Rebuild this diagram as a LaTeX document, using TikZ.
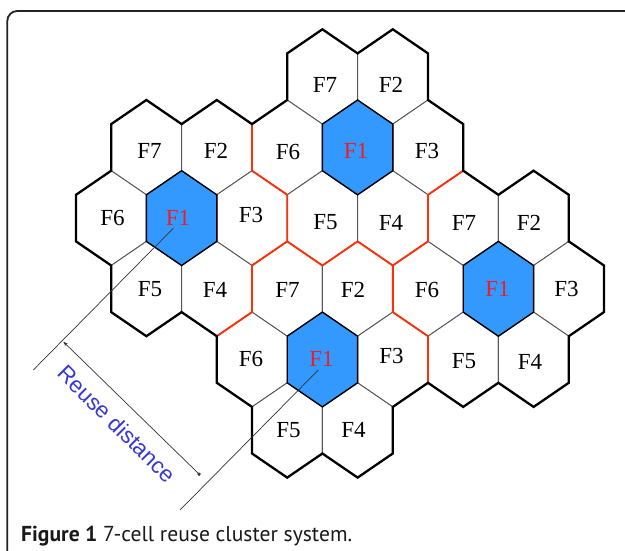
\documentclass[tikz,border=0pt]{standalone}
\usepackage{fontspec}
\usetikzlibrary{arrows.meta}
\newfontfamily\cellfont{Liberation Serif}
\newfontfamily\dimfont{Liberation Sans}
\newfontfamily\capfont{PT Sans}
\definecolor{cellblue}{RGB}{51,153,255}
\definecolor{cellred}{RGB}{235,30,40}
\definecolor{bordred}{RGB}{250,50,10}
\definecolor{dimblue}{RGB}{55,55,215}
\definecolor{innergray}{RGB}{85,85,85}
\definecolor{framegray}{RGB}{35,35,35}
\tikzset{
  cellnum/.style={font=\cellfont\fontsize{23}{23}\selectfont, inner sep=0pt, text=black},
  fonenum/.style={cellnum, text=cellred},
  innerline/.style={draw=innergray, line width=0.9pt},
  foneline/.style={draw=black, line width=1.4pt},
  clusterline/.style={draw=bordred, line width=1.9pt, line join=miter},
  outerline/.style={draw=black, line width=2.3pt, line join=miter},
  dimline/.style={draw=black!80, line width=0.7pt},
  dimtext/.style={font=\dimfont\fontsize{22.5}{22.5}\selectfont, text=dimblue, rotate=-45, inner sep=0pt},
  capstyle/.style={font=\capfont\fontsize{21.6}{21.6}\selectfont, text=black!90, inner sep=0pt, anchor=base west},
}
\newcommand\hexcell[3]{%
  \pgfmathtruncatemacro\hma{2*#1-2}%
  \pgfmathtruncatemacro\hmb{2*#1-1}%
  \pgfmathtruncatemacro\hmc{2*#1}%
  \pgfmathtruncatemacro\hmd{2*#1+1}%
  \pgfmathtruncatemacro\hkl{#2-1}%
  \pgfmathtruncatemacro\hkr{#2+1}%
  \path[#3] (v-#2-\hma) -- (v-\hkr-\hmb) -- (v-\hkr-\hmc) -- (v-#2-\hmd) -- (v-\hkl-\hmc) -- (v-\hkl-\hmb) -- cycle;%
}
\begin{document}
\begin{tikzpicture}[x=1pt,y=-1pt]
\useasboundingbox (0,0) rectangle (625,551);
\clip (0,0) rectangle (625,551);
\fill[white] (0,0) rectangle (625,551);
\draw[framegray, line width=1.8pt, rounded corners=10pt] (7.3,11) rectangle (636,600);

% lattice of hexagon vertices
\foreach \j in {0,...,15}{
  \foreach \m in {0,...,13}{
    \pgfmathsetmacro\xx{76+35.2*\j}
    \pgfmathsetmacro\yy{29.3+70.7*floor(\m/2)+24.1*mod(\m,2)}
    \coordinate (v-\j-\m) at (\xx,\yy);
  }
}

% ordinary cells
\foreach \r/\k in {1/7,1/9,2/2,2/4,2/6,2/10,3/1,3/5,3/7,3/9,3/11,3/13,4/2,4/4,4/6,4/8,4/10,4/14,5/5,5/9,5/11,5/13,6/6,6/8}{
  \hexcell{\r}{\k}{fill=white, innerline}
}
% F1 cells
\foreach \r/\k in {2/8,3/3,4/12,5/7}{
  \hexcell{\r}{\k}{fill=cellblue, foneline}
}

% cluster borders
\draw[clusterline] (v-5-3) -- (v-5-4) -- (v-6-5) -- (v-6-6) -- (v-5-7) -- (v-5-8) -- (v-4-9);
\draw[clusterline] (v-6-6) -- (v-7-7) -- (v-8-6) -- (v-9-7);
\draw[clusterline] (v-11-4) -- (v-10-5) -- (v-10-6) -- (v-9-7);
\draw[clusterline] (v-9-7) -- (v-9-8) -- (v-10-9) -- (v-10-10);

% outer border
\draw[outerline] (v-7-0) -- (v-8-1) -- (v-9-0) -- (v-10-1) -- (v-10-2) -- (v-11-3) -- (v-11-4)
  -- (v-12-5) -- (v-13-4) -- (v-14-5) -- (v-14-6) -- (v-15-7) -- (v-15-8) -- (v-14-9)
  -- (v-14-10) -- (v-13-11) -- (v-12-10) -- (v-11-11) -- (v-10-10) -- (v-9-11) -- (v-9-12)
  -- (v-8-13) -- (v-7-12) -- (v-6-13) -- (v-5-12) -- (v-5-11) -- (v-4-10) -- (v-4-9)
  -- (v-3-8) -- (v-2-9) -- (v-1-8) -- (v-1-7) -- (v-0-6) -- (v-0-5) -- (v-1-4) -- (v-1-3)
  -- (v-2-2) -- (v-3-3) -- (v-4-2) -- (v-5-3) -- (v-6-2) -- (v-6-1) -- cycle;

% labels
\node[cellnum] (l-1-7) at (325,84.5) {F7};
\node[cellnum] (l-1-9) at (391,84.5) {F2};
\node[cellnum] (l-2-2) at (149.5,150.5) {F7};
\node[cellnum] (l-2-4) at (216,150.5) {F2};
\node[cellnum] (l-2-6) at (288,152) {F6};
\node[fonenum] (l-2-8) at (356,151) {F1};
\node[cellnum] (l-2-10) at (427,150.5) {F3};
\node[cellnum] (l-3-1) at (112.5,217.5) {F6};
\node[fonenum] (l-3-3) at (178,217.5) {F1};
\node[cellnum] (l-3-5) at (251,215) {F3};
\node[cellnum] (l-3-7) at (325.5,222.5) {F5};
\node[cellnum] (l-3-9) at (391,222.5) {F4};
\node[cellnum] (l-3-11) at (464,223) {F7};
\node[cellnum] (l-3-13) at (529,223) {F2};
\node[cellnum] (l-4-2) at (150,289) {F5};
\node[cellnum] (l-4-4) at (215,290) {F4};
\node[cellnum] (l-4-6) at (287.5,290) {F7};
\node[cellnum] (l-4-8) at (353,290) {F2};
\node[cellnum] (l-4-10) at (427,290) {F6};
\node[fonenum] (l-4-12) at (497.5,289) {F1};
\node[cellnum] (l-4-14) at (566.5,289) {F3};
\node[cellnum] (l-5-5) at (251,358.5) {F6};
\node[fonenum] (l-5-7) at (321.5,359) {F1};
\node[cellnum] (l-5-9) at (391.5,356) {F3};
\node[cellnum] (l-5-11) at (464,361.5) {F5};
\node[cellnum] (l-5-13) at (530,361.5) {F4};
\node[cellnum] (l-6-6) at (288.5,430) {F5};
\node[cellnum] (l-6-8) at (353.5,430) {F4};

% reuse distance
\coordinate (ra) at (173.3,228.3);
\coordinate (rb) at (33.3,370);
\coordinate (rc) at (318.3,370);
\coordinate (rd) at (180,510);
\coordinate (da) at (63.3,341.7);
\coordinate (db) at (200,475);
\draw[dimline] (ra) -- (rb);
\draw[dimline] (rc) -- (rd);
\draw[dimline, {Stealth[length=5pt,width=3.5pt]}-{Square[length=2.5pt,width=2.5pt]}] (da) -- (db);
\node[dimtext] (rdlabel) at (117,424) {Reuse distance};

% caption
\node[capstyle] (cap) at (21,541.7) {\textbf{Figure 1} 7-cell reuse cluster system.};
\end{tikzpicture}
\end{document}
